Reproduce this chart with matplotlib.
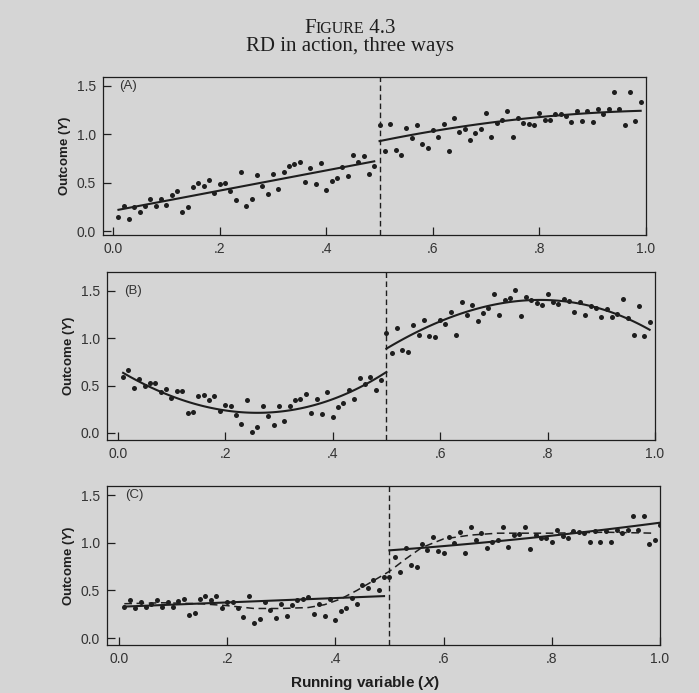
import numpy as np
import matplotlib
matplotlib.use("Agg")
import matplotlib.pyplot as plt

plt.rcParams['font.family'] = ['Liberation Sans', 'DejaVu Sans']
plt.rcParams['mathtext.fontset'] = 'custom'
plt.rcParams['mathtext.it'] = 'Liberation Sans:italic:bold'
plt.rcParams['mathtext.rm'] = 'Liberation Sans:bold'

PAGE = '#d5d5d5'
INK = '#1e1e1e'

# running variable grid (one observation per .01)
x_left = np.round(np.arange(1, 50) / 100, 2)      # .01 .. .49
x_right = np.round(np.arange(50, 100) / 100, 2)   # .50 .. .99
x_right_c = np.round(np.arange(50, 101) / 100, 2)  # .50 .. 1.00

# ---- panel A : linear ----
a_left = [0.15, 0.26, 0.12, 0.25, 0.20, 0.26, 0.33, 0.26, 0.33, 0.27,
          0.37, 0.41, 0.20, 0.25, 0.46, 0.50, 0.47, 0.53, 0.39, 0.49,
          0.50, 0.41, 0.32, 0.61, 0.26, 0.33, 0.58, 0.47, 0.38, 0.59,
          0.43, 0.61, 0.67, 0.69, 0.71, 0.51, 0.65, 0.49, 0.70, 0.42,
          0.52, 0.55, 0.66, 0.57, 0.79, 0.71, 0.77, 0.59, 0.67]
a_right = [1.09, 0.83, 1.10, 0.84, 0.79, 1.06, 0.96, 1.09, 0.90, 0.86,
           1.04, 0.97, 1.10, 0.83, 1.17, 1.02, 1.05, 0.94, 1.01, 1.05,
           1.22, 0.97, 1.12, 1.15, 1.24, 0.97, 1.17, 1.12, 1.10, 1.09,
           1.22, 1.15, 1.15, 1.21, 1.21, 1.19, 1.13, 1.24, 1.14, 1.24,
           1.13, 1.26, 1.21, 1.26, 1.44, 1.26, 1.09, 1.44, 1.14, 1.33]
a_fit_left_x = [0.01, 0.49]
a_fit_left_y = [0.22, 0.72]
a_fit_right_x = [0.50, 0.60, 0.70, 0.80, 0.90, 0.99]
a_fit_right_y = [0.93, 1.03, 1.11, 1.18, 1.22, 1.24]

# ---- panel B : nonlinear ----
b_left = [0.59, 0.66, 0.47, 0.57, 0.50, 0.53, 0.53, 0.43, 0.46, 0.37,
          0.44, 0.44, 0.21, 0.22, 0.39, 0.40, 0.35, 0.39, 0.23, 0.30,
          0.29, 0.19, 0.09, 0.35, 0.01, 0.06, 0.29, 0.18, 0.08, 0.28,
          0.13, 0.29, 0.35, 0.36, 0.41, 0.21, 0.36, 0.20, 0.43, 0.17,
          0.27, 0.32, 0.45, 0.36, 0.58, 0.52, 0.59, 0.45, 0.56]
b_right = [1.06, 0.84, 1.11, 0.88, 0.85, 1.14, 1.03, 1.19, 1.02, 1.01,
           1.19, 1.15, 1.28, 1.04, 1.38, 1.25, 1.35, 1.18, 1.27, 1.32,
           1.47, 1.25, 1.40, 1.43, 1.51, 1.24, 1.44, 1.40, 1.37, 1.35,
           1.47, 1.38, 1.36, 1.41, 1.39, 1.28, 1.38, 1.25, 1.34, 1.32,
           1.22, 1.31, 1.23, 1.26, 1.42, 1.21, 1.03, 1.34, 1.02, 1.17]
b_fit_left_x = [0.01, 0.10, 0.20, 0.26, 0.30, 0.40, 0.49]
b_fit_left_y = [0.63, 0.40, 0.245, 0.20, 0.21, 0.38, 0.60]
b_fit_right_x = [0.50, 0.60, 0.70, 0.77, 0.80, 0.90, 0.99]
b_fit_right_y = [0.89, 1.18, 1.35, 1.41, 1.40, 1.31, 1.09]

# ---- panel C : linear fit vs. smoother ----
c_left = [0.33, 0.40, 0.31, 0.38, 0.33, 0.36, 0.40, 0.33, 0.38, 0.33,
          0.39, 0.41, 0.24, 0.26, 0.41, 0.44, 0.40, 0.44, 0.31, 0.38,
          0.38, 0.31, 0.22, 0.44, 0.16, 0.20, 0.38, 0.29, 0.21, 0.36,
          0.23, 0.35, 0.40, 0.41, 0.43, 0.25, 0.36, 0.23, 0.41, 0.19,
          0.28, 0.31, 0.42, 0.36, 0.56, 0.53, 0.61, 0.50, 0.64]
c_right = [0.64,
           0.85, 0.69, 0.94, 0.77, 0.75, 0.99, 0.92, 1.06, 0.91, 0.89,
           1.06, 1.00, 1.11, 0.89, 1.16, 1.03, 1.10, 0.94, 1.01, 1.03,
           1.16, 0.96, 1.08, 1.09, 1.16, 0.93, 1.08, 1.05, 1.05, 1.01,
           1.13, 1.07, 1.05, 1.12, 1.11, 1.10, 1.01, 1.12, 1.01, 1.12,
           1.01, 1.13, 1.10, 1.13, 1.28, 1.13, 1.28, 0.99, 1.03, 1.19]
c_fit_left_x = [0.01, 0.49]
c_fit_left_y = [0.33, 0.44]
c_fit_right_x = [0.50, 0.76, 1.00]
c_fit_right_y = [0.92, 1.05, 1.21]
c_smooth_x = [0.01, 0.08, 0.15, 0.20, 0.25, 0.30, 0.35, 0.38, 0.41, 0.44,
              0.47, 0.50, 0.53, 0.56, 0.60, 0.65, 0.70, 0.80, 0.90, 0.99]
c_smooth_y = [0.36, 0.37, 0.36, 0.34, 0.31, 0.31, 0.32, 0.35, 0.41, 0.50,
              0.60, 0.70, 0.83, 0.95, 1.04, 1.08, 1.10, 1.10, 1.11, 1.10]

xticks = [0.0, 0.2, 0.4, 0.6, 0.8, 1.0]
xtick_labels = ['0.0', '.2', '.4', '.6', '.8', '1.0']
yticks = [0.0, 0.5, 1.0, 1.5]
ytick_labels = ['0.0', '0.5', '1.0', '1.5']
panel_tags = ['(A)', '(B)', '(C)']

W, H = 699, 693


def px_axes(left, top, right, bottom):
    return [left / W, 1 - bottom / H, (right - left) / W, (bottom - top) / H]


def smooth_fit(xk, yk, deg, lo, hi):
    coef = np.polyfit(xk, yk, deg)
    xs = np.linspace(lo, hi, 120)
    return xs, np.polyval(coef, xs)


def style_axes(ax, tag, xlim, ylim):
    ax.set_facecolor(PAGE)
    ax.set_xlim(*xlim)
    ax.set_ylim(*ylim)
    ax.set_xticks(xticks)
    ax.set_xticklabels(xtick_labels)
    ax.set_yticks(yticks)
    ax.set_yticklabels(ytick_labels)
    ax.tick_params(direction='in', length=6, width=0.9, colors=INK,
                   labelsize=10, pad=5, labelcolor='#333333')
    for sp in ax.spines.values():
        sp.set_linewidth(0.9)
        sp.set_color(INK)
    ax.axvline(0.5, color=INK, lw=1.0, ls=(0, (4, 2.5)))
    ax.text(0.012, 1.5, tag, fontsize=9.5, color='#333333', va='center', ha='left')
    ax.set_ylabel('Outcome ($Y$)', fontsize=9.5, fontweight='bold', color=INK)
    ax.yaxis.set_label_coords(-0.055, 0.5)


fig = plt.figure(figsize=(W / 100, H / 100), dpi=100, facecolor=PAGE)

dot = dict(s=13, color=INK, linewidths=0, zorder=3)
line = dict(color=INK, lw=1.5, zorder=4)

# panel A
ax1 = fig.add_axes(px_axes(103, 77, 646, 235))
style_axes(ax1, panel_tags[0], (-0.019, 1.0), (-0.04, 1.59))
ax1.scatter(x_left, a_left, **dot)
ax1.scatter(x_right, a_right, **dot)
ax1.plot(a_fit_left_x, a_fit_left_y, **line)
ax1.plot(*smooth_fit(a_fit_right_x, a_fit_right_y, 2, 0.5, 0.99), **line)

# panel B
ax2 = fig.add_axes(px_axes(107, 272, 655, 440))
style_axes(ax2, panel_tags[1], (-0.02, 1.0), (-0.074, 1.70))
ax2.scatter(x_left, b_left, **dot)
ax2.scatter(x_right, b_right, **dot)
ax2.plot(*smooth_fit(b_fit_left_x, b_fit_left_y, 3, 0.01, 0.5), **line)
ax2.plot(*smooth_fit(b_fit_right_x, b_fit_right_y, 3, 0.5, 0.99), **line)

# panel C
ax3 = fig.add_axes(px_axes(107, 486, 660, 645))
style_axes(ax3, panel_tags[2], (-0.022, 1.0), (-0.073, 1.595))
ax3.scatter(x_left, c_left, **dot)
ax3.scatter(x_right_c, c_right, **dot)
ax3.plot(c_fit_left_x, c_fit_left_y, **line)
ax3.plot(*smooth_fit(c_fit_right_x, c_fit_right_y, 2, 0.5, 1.0), **line)
ax3.plot(c_smooth_x, c_smooth_y, color=INK, lw=1.1, ls=(0, (5, 3)), zorder=4)

fig.text(365 / W, 1 - 683 / H, 'Running variable ($X$)', fontsize=11,
         fontweight='bold', color=INK, ha='center', va='center')

# title: small caps "Figure 4.3"
renderer = fig.canvas.get_renderer()
parts = [('F', 15), ('IGURE', 11.5), (' 4.3', 15)]
base_y = 1 - 33 / H
pieces = [fig.text(0, base_y, s, fontsize=fs, family='Liberation Serif',
                   color=INK, va='baseline', ha='left') for s, fs in parts]
widths = [p.get_window_extent(renderer).width for p in pieces]
x0 = 350 - sum(widths) / 2
for p, w in zip(pieces, widths):
    p.set_x(x0 / W)
    x0 += w

fig.text(350 / W, 1 - 46 / H, 'RD in action, three ways', fontsize=15,
         family='Liberation Serif', color=INK, ha='center', va='center')

fig.savefig('out.png', dpi=100, facecolor=PAGE)
